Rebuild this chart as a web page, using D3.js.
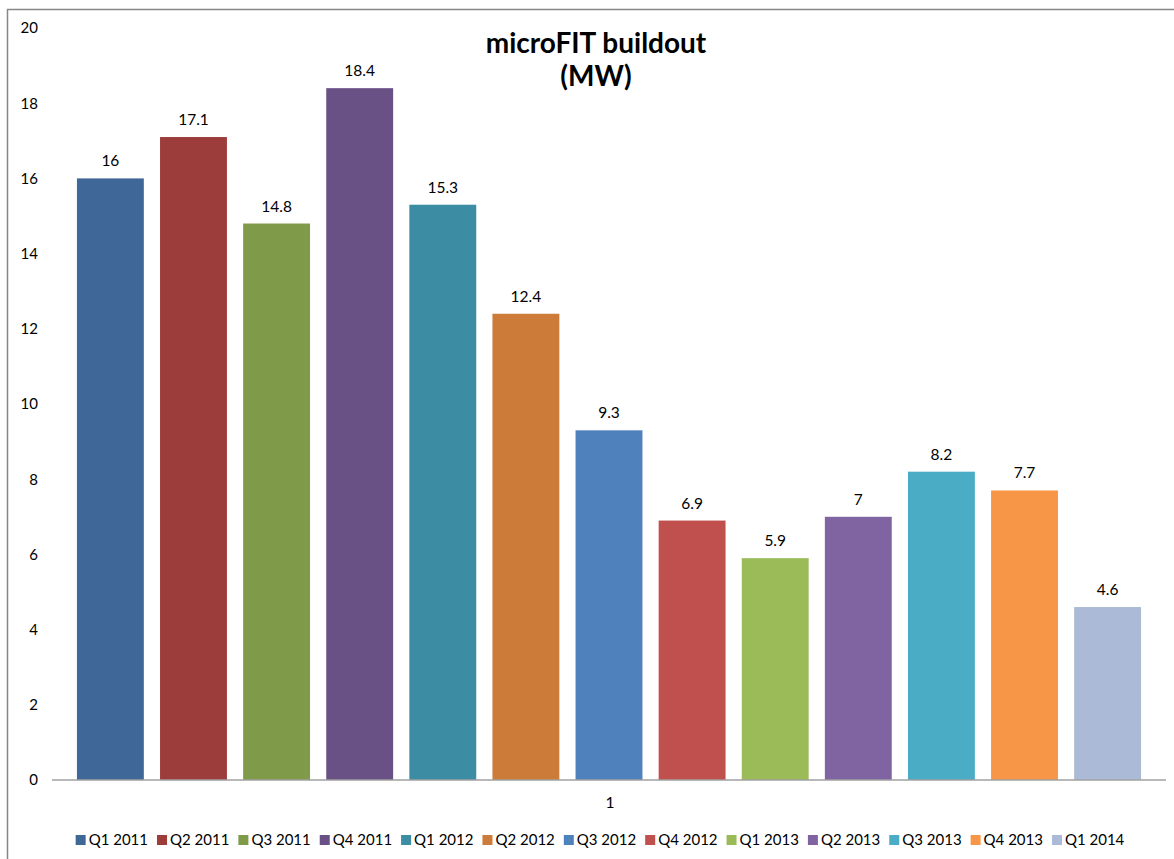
<!DOCTYPE html>
<html>
<head>
<meta charset="utf-8">
<script src="https://cdn.jsdelivr.net/npm/d3@7"></script>
<style>
  body { margin: 0; background: #fff; }
  text { font-family: Lato, "Open Sans", sans-serif; fill: #000; }
</style>
</head>
<body>
<svg width="1174" height="859"></svg>
<script>
const quarters = ["Q1 2011", "Q2 2011", "Q3 2011", "Q4 2011", "Q1 2012", "Q2 2012", "Q3 2012",
  "Q4 2012", "Q1 2013", "Q2 2013", "Q3 2013", "Q4 2013", "Q1 2014"];
const buildout = [16, 17.1, 14.8, 18.4, 15.3, 12.4, 9.3, 6.9, 5.9, 7, 8.2, 7.7, 4.6];
const colors = ["#3f6899", "#9c3d3b", "#7f9a48", "#695185", "#3c8da3", "#cc7b38", "#4f81bd",
  "#c0504d", "#9bbb59", "#8064a2", "#4bacc6", "#f79646", "#aabad7"];
const yTicks = [0, 2, 4, 6, 8, 10, 12, 14, 16, 18, 20];
const categoryLabel = "1";

var svg = d3.select("svg");

// chart border (only left and top fall inside the picture)
svg.append("path")
  .attr("d", "M7.5,859 V9.5 H1174")
  .attr("fill", "none")
  .attr("stroke", "#868686")
  .attr("stroke-width", 1.5);

var x = d3.scaleBand()
  .domain(quarters)
  .range([52, 1166])
  .paddingInner(0.195)
  .paddingOuter(0.3);

var y = d3.scaleLinear()
  .domain([0, 20])
  .range([780, 28]);

// y tick labels, no axis line
var yAxis = svg.append("g")
  .attr("transform", "translate(38,0)")
  .call(d3.axisLeft(y).tickValues(yTicks).tickSize(0).tickPadding(0));
yAxis.select(".domain").remove();
yAxis.selectAll("text")
  .attr("font-family", "Lato, sans-serif")
  .attr("font-size", 15)
  .attr("fill", "#000");

var data = quarters.map((q, i) => ({ q: q, v: buildout[i], c: colors[i] }));

svg.append("g")
  .selectAll("rect")
  .data(data)
  .enter().append("rect")
  .attr("x", d => x(d.q))
  .attr("y", d => y(d.v))
  .attr("width", x.bandwidth())
  .attr("height", d => y(0) - y(d.v))
  .attr("fill", d => d.c);

// value labels
svg.append("g")
  .selectAll("text")
  .data(data)
  .enter().append("text")
  .attr("x", d => x(d.q) + x.bandwidth() / 2)
  .attr("y", d => y(d.v) - 12)
  .attr("text-anchor", "middle")
  .attr("font-size", 15.5)
  .text(d => d.v);

// baseline
svg.append("line")
  .attr("x1", 52).attr("x2", 1166)
  .attr("y1", y(0)).attr("y2", y(0))
  .attr("stroke", "#a0a0a0")
  .attr("stroke-width", 1.5);

svg.append("text")
  .attr("x", 610).attr("y", 808)
  .attr("text-anchor", "middle")
  .attr("font-size", 15.5)
  .text(categoryLabel);

// title
var title = svg.append("text")
  .attr("x", 596).attr("y", 53)
  .attr("text-anchor", "middle")
  .attr("font-size", 28)
  .attr("font-weight", "bold");
title.append("tspan").attr("x", 596).text("microFIT buildout");
title.append("tspan").attr("x", 596).attr("dy", 33).text("(MW)");

// legend
var legend = svg.append("g");
var cursor = 0;
data.forEach(function(d) {
  var item = legend.append("g").attr("transform", "translate(" + cursor + ",0)");
  item.append("rect")
    .attr("x", 0).attr("y", -10)
    .attr("width", 10).attr("height", 10)
    .attr("fill", d.c);
  var t = item.append("text")
    .attr("x", 13).attr("y", 0)
    .attr("font-size", 15)
    .text(d.q);
  cursor += 13 + t.node().getComputedTextLength() + 9;
});
var legendWidth = cursor - 9;
legend.attr("transform", "translate(" + (600 - legendWidth / 2) + ",845)");
</script>
</body>
</html>
